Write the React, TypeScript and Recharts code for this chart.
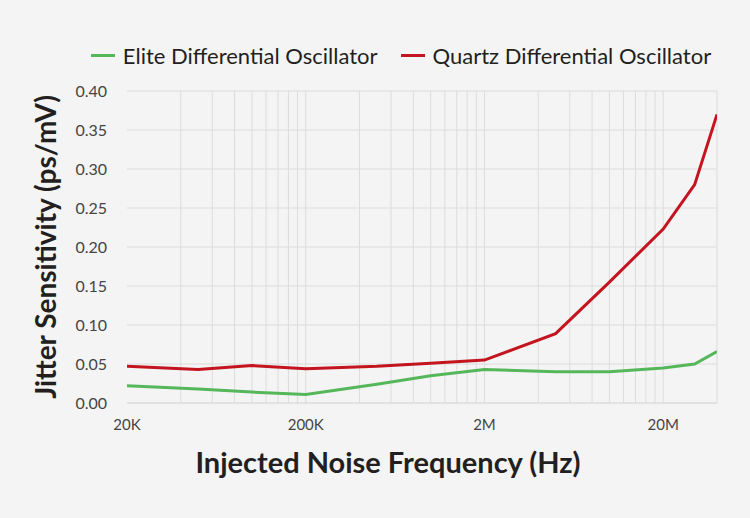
import { CartesianGrid, Line, LineChart, ReferenceLine, XAxis, YAxis } from "recharts";

const frequencies = [20000, 50000, 100000, 200000, 500000, 1000000, 2000000, 5000000, 10000000, 20000000, 30000000, 40000000];
const eliteValues = [0.022, 0.018, 0.014, 0.011, 0.024, 0.035, 0.043, 0.04, 0.04, 0.045, 0.05, 0.066];
const quartzValues = [0.047, 0.043, 0.048, 0.044, 0.047, 0.051, 0.055, 0.089, 0.155, 0.223, 0.28, 0.37];

const xTicks = [20000, 200000, 2000000, 20000000];
const yTicks = [0, 0.05, 0.1, 0.15, 0.2, 0.25, 0.3, 0.35, 0.4];
const minorGrid = [
  40000, 60000, 80000, 100000, 120000, 140000, 160000, 180000, 200000,
  400000, 600000, 800000, 1000000, 1200000, 1400000, 1600000, 1800000, 2000000,
  4000000, 6000000, 8000000, 10000000, 12000000, 14000000, 16000000, 18000000, 20000000,
  40000000,
];

const data = frequencies.map((f, i) => ({ f, elite: eliteValues[i], quartz: quartzValues[i] }));

const GREEN = "#55b75a";
const RED = "#c3141f";
const FONT = "Lato, 'Open Sans', sans-serif";

const formatFreq = (v: number) => (v >= 1000000 ? `${v / 1000000}M` : `${v / 1000}K`);

export default function App() {
  return (
    <div
      style={{
        position: "absolute",
        left: 0,
        top: 0,
        width: 750,
        height: 518,
        background: "#f4f4f4",
        fontFamily: FONT,
        overflow: "hidden",
      }}
    >
      <div
        style={{
          position: "absolute",
          top: 42,
          left: 0,
          width: 750,
          display: "flex",
          justifyContent: "center",
          alignItems: "center",
          fontSize: 22,
          color: "#231f20",
          paddingLeft: 52,
          boxSizing: "border-box",
        }}
      >
        <span style={{ display: "inline-block", width: 24, height: 3, background: GREEN, marginRight: 8 }} />
        <span style={{ marginRight: 23 }}>Elite Differential Oscillator</span>
        <span style={{ display: "inline-block", width: 24, height: 3, background: RED, marginRight: 8 }} />
        <span>Quartz Differential Oscillator</span>
      </div>
      <LineChart
        width={750}
        height={518}
        data={data}
        margin={{ top: 91, right: 33, left: 0, bottom: 75 }}
        style={{ position: "absolute", left: 0, top: 0 }}
      >
        <CartesianGrid vertical={false} stroke="#dcdcdc" strokeWidth={1} />
        {minorGrid.map((v) => (
          <ReferenceLine key={v} x={v} stroke="#dcdcdc" strokeWidth={1} />
        ))}
        <XAxis
          dataKey="f"
          type="number"
          scale="log"
          domain={[20000, 40000000]}
          ticks={xTicks}
          tickFormatter={formatFreq}
          allowDataOverflow
          axisLine={{ stroke: "#dcdcdc" }}
          tickLine={false}
          tick={{ fontSize: 15, fill: "#444", fontFamily: FONT }}
          tickMargin={10}
          height={40}
        />
        <YAxis
          type="number"
          domain={[0, 0.4]}
          ticks={yTicks}
          tickFormatter={(v: number) => v.toFixed(2)}
          axisLine={false}
          tickLine={false}
          tick={{ fontSize: 16, fill: "#444", fontFamily: FONT }}
          tickMargin={14}
          width={127}
        />
        <Line
          dataKey="elite"
          stroke={GREEN}
          strokeWidth={3}
          dot={false}
          isAnimationActive={false}
          type="linear"
        />
        <Line
          dataKey="quartz"
          stroke={RED}
          strokeWidth={3}
          dot={false}
          isAnimationActive={false}
          type="linear"
        />
      </LineChart>
      <div
        style={{
          position: "absolute",
          top: 444,
          left: 0,
          width: 776,
          textAlign: "center",
          fontSize: 29,
          fontWeight: 700,
          color: "#231f20",
        }}
      >
        Injected Noise Frequency (Hz)
      </div>
      <div
        style={{
          position: "absolute",
          left: 45,
          top: 247,
          transform: "translate(-50%, -50%) rotate(-90deg)",
          whiteSpace: "nowrap",
          fontSize: 28,
          fontWeight: 700,
          color: "#231f20",
        }}
      >
        Jitter Sensitivity (ps/mV)
      </div>
    </div>
  );
}
